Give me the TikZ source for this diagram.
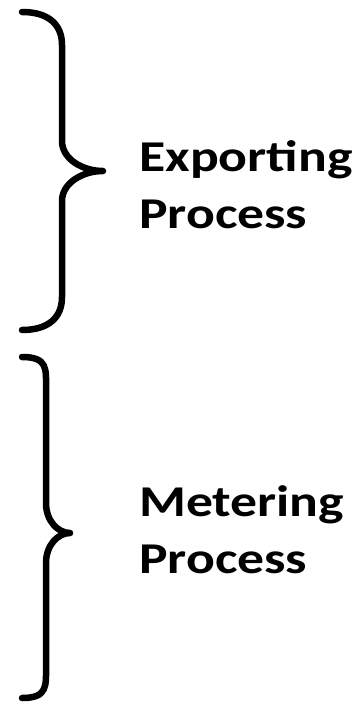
\documentclass[tikz,border=0pt]{standalone}
\usepackage{fontspec}
\setmainfont{Carlito}
\newfontfamily\procfont[FakeStretch=1.22]{Carlito}

\tikzset{
  brace/.style={line width=6.5pt,line cap=round,line join=round,black},
  procname/.style={anchor=base west,inner sep=0pt,align=left,
    font=\procfont\fontsize{44}{57}\selectfont\bfseries}
}

\begin{document}
\begin{tikzpicture}[x=1pt,y=-1pt]
      \useasboundingbox (0,0) rectangle (356,712);

      %%%%%%%%%%%%%%%%%%%%%%%%%%%%%%%%%%%%%%%%%%%%%%%%%%%%%%%%%%%%%%%%%%%%%%%%%%%
      %%%%  braces: top, upper stem end, tip, lower stem start, bottom, stem x, tip x
      \foreach \ytop/\ya/\ytip/\yb/\ybot/\xs/\xt in
        {12/45/171/202/330/62/103,
         357/388/533/565/698/46/70}
       {\pgfmathsetmacro\xm{(\xs+\xt)/2}
        \draw[brace] (22,\ytop)
          .. controls (48,\ytop) and (\xs,\ytop+12) .. (\xs,\ya)
          -- (\xs,\ytip-30)
          .. controls (\xs,\ytip-12) and (\xm,\ytip) .. (\xt,\ytip)
          .. controls (\xm,\ytip) and (\xs,\ytip+12) .. (\xs,\ytip+30)
          -- (\xs,\yb) -- (\xs,\ybot-33)
          .. controls (\xs,\ybot-12) and (48,\ybot) .. (22,\ybot);
      };

      %%%%%%%%%%%%%%%%%%%%%%%%%%%%%%%%%%%%%%%%%%%%%%%%%%%%%%%%%%%%%%%%%%%%%%%%%%%
      \node[procname] (export) at (139,228) {Exporting\\Process};
      \node[procname] (meter) at (139,573) {Metering\\Process};
    \end{tikzpicture}
\end{document}
